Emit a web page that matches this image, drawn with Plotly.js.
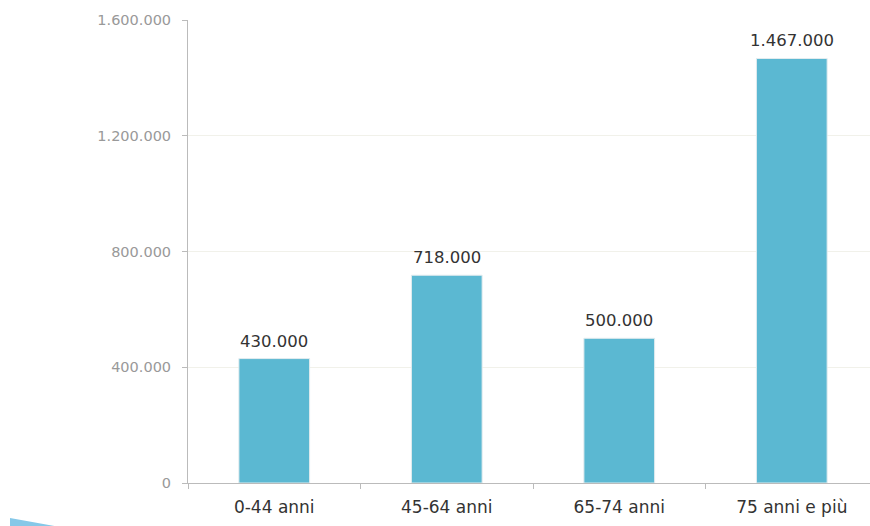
<!DOCTYPE html>
<html>
<head>
<meta charset="utf-8">
<script src="https://cdn.plot.ly/plotly-3.0.1.min.js"></script>
<style>html,body{margin:0;padding:0;background:#fff;overflow:hidden}#chart{width:870px;height:526px}</style>
</head>
<body>
<div id="chart"></div>
<script>
const categories = ["0-44 anni", "45-64 anni", "65-74 anni", "75 anni e più"];
const values = [430000, 718000, 500000, 1467000];
const yTicks = [0, 400000, 800000, 1200000, 1600000];

const L = 188, R = 870, T = 20, B = 483;
function px(x){ return (x - L) / (R - L); }
function py(y){ return (B - y) / (B - T); }
const FONT = 'DejaVu Sans, sans-serif';

const trace = {
  type: 'bar',
  x: categories,
  y: values,
  marker: {color: '#5bb8d2', line: {color: '#e3ecef', width: 1}},
  hoverinfo: 'none'
};

const annotations = categories.map((c, i) => ({
  x: c, y: values[i], xref: 'x', yref: 'y',
  text: values[i].toLocaleString('de-DE'),
  showarrow: false, yanchor: 'bottom', yshift: 6,
  font: {family: FONT, size: 16.5, color: '#333'}
}));

const layout = {
  width: 870, height: 526,
  margin: {l: L, r: 0, t: T, b: 526 - B},
  paper_bgcolor: '#fff', plot_bgcolor: '#fff',
  separators: ',.',
  showlegend: false,
  bargap: 0.59,
  font: {family: FONT},
  xaxis: {
    range: [-0.5, 3.5 - 8/172],
    tickson: 'boundaries',
    ticks: 'outside', ticklen: 5, tickcolor: '#bbb',
    showline: true, linecolor: '#bbb', linewidth: 1,
    showgrid: false, zeroline: false,
    tickfont: {family: FONT, size: 17, color: '#333'},
    ticklabelstandoff: 9,
    fixedrange: true
  },
  yaxis: {
    range: [0, 1600000],
    tickvals: yTicks,
    tickformat: ',',
    ticks: 'outside', ticklen: 5, tickcolor: '#bbb',
    showline: true, linecolor: '#bbb', linewidth: 1,
    gridcolor: '#f1f1ea', zeroline: false,
    tickfont: {family: FONT, size: 14.5, color: '#999'},
    ticklabelstandoff: 8,
    fixedrange: true
  },
  annotations: annotations,
  shapes: [{
    type: 'path', xref: 'paper', yref: 'paper',
    path: 'M ' + px(10) + ' ' + py(518) + ' L ' + px(10) + ' ' + py(527) + ' L ' + px(60) + ' ' + py(527) + ' Z',
    fillcolor: '#86c8e8', line: {width: 0}, layer: 'above'
  }]
};

Plotly.newPlot('chart', [trace], layout, {staticPlot: true});
</script>
</body>
</html>
